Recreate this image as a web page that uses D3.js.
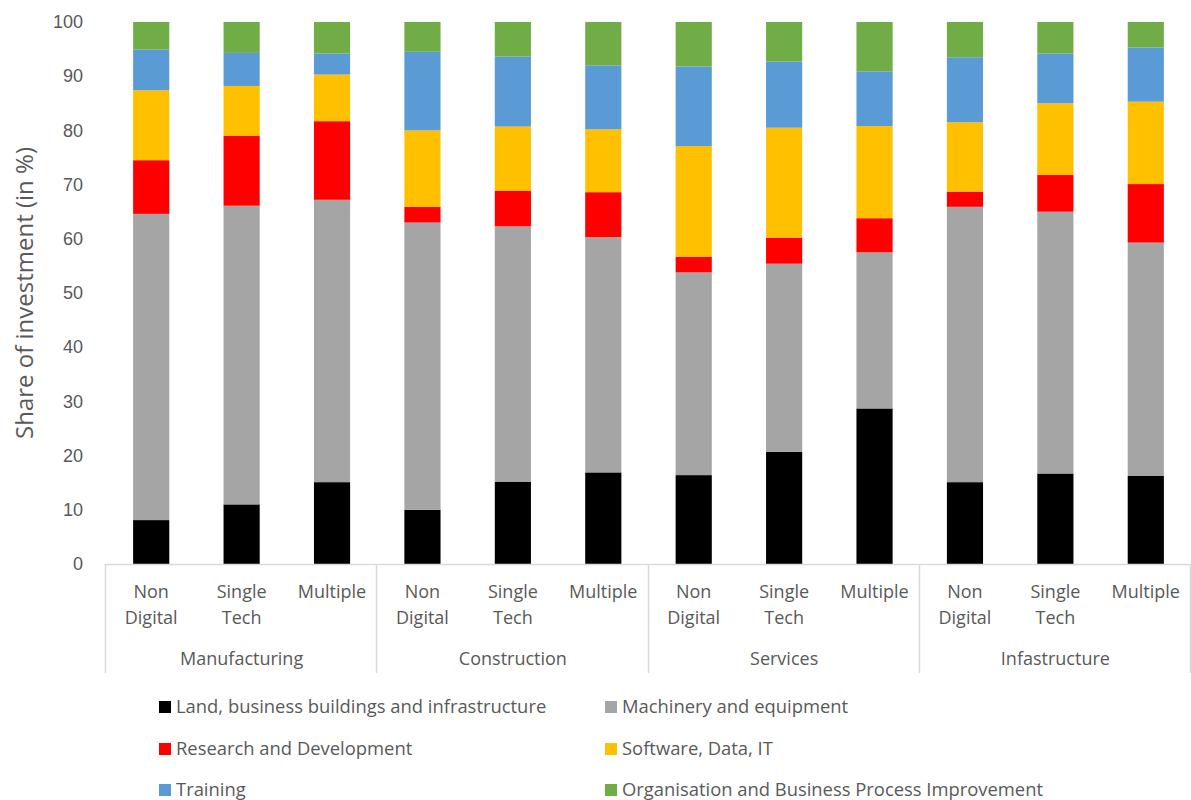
<!DOCTYPE html>
<html>
<head>
<meta charset="utf-8">
<script src="https://cdn.jsdelivr.net/npm/d3@7"></script>
<style>
  body { margin: 0; background: #fff; }
  svg { font-family: "Open Sans", sans-serif; }
  .tick text { fill: #595959; }
</style>
</head>
<body>
<svg id="chart" width="1191" height="800"></svg>
<script>
// ---- Data
const groups = ["Manufacturing", "Construction", "Services", "Infastructure"];
const levels = ["Non Digital", "Single Tech", "Multiple"];
const yTicks = [0, 10, 20, 30, 40, 50, 60, 70, 80, 90, 100];

const seriesNames = [
    "Land, business buildings and infrastructure",
    "Machinery and equipment",
    "Research and Development",
    "Software, Data, IT",
    "Training",
    "Organisation and Business Process Improvement"
];
const seriesColors = ["#000000", "#a5a5a5", "#ff0000", "#ffc000", "#5b9bd5", "#70ad47"];

// one value per bar, in order Manufacturing ND/ST/M, Construction ..., Services ..., Infrastructure ...
const land      = [8.1, 11.0, 15.1, 10.0, 15.2, 16.9, 16.4, 20.7, 28.7, 15.1, 16.7, 16.3];
const machinery = [56.5, 55.1, 52.1, 53.0, 47.1, 43.4, 37.4, 34.7, 28.8, 50.8, 48.3, 43.0];
const research  = [9.9, 12.9, 14.5, 2.9, 6.6, 8.3, 2.9, 4.8, 6.3, 2.8, 6.8, 10.8];
const software  = [12.9, 9.2, 8.6, 14.1, 11.8, 11.6, 20.4, 20.3, 17.0, 12.8, 13.2, 15.2];
const training  = [7.5, 6.1, 3.9, 14.5, 12.9, 11.8, 14.7, 12.2, 10.1, 12.0, 9.2, 10.0];
const organisation = [5.1, 5.7, 5.8, 5.5, 6.4, 8.0, 8.2, 7.3, 9.1, 6.5, 5.8, 4.7];

const seriesValues = [land, machinery, research, software, training, organisation];

// ---- Build rows
const rows = [];
groups.forEach((g, gi) => {
    levels.forEach((l, li) => {
        const i = gi * levels.length + li;
        const row = { key: g + "|" + l, group: g, level: l };
        seriesNames.forEach((s, si) => { row[s] = seriesValues[si][i]; });
        rows.push(row);
    });
});

const stacked = d3.stack().keys(seriesNames)(rows);

// ---- Layout
const svg = d3.select('#chart');
const margens = { left: 106, right: 0, top: 22, bottom: 236 };
const width = 1191, height = 800;
const plotBottom = height - margens.bottom; // 564

const mapX = d3.scaleBand()
    .domain(rows.map(d => d.key))
    .range([margens.left, width - margens.right])
    .paddingInner(0.6)
    .paddingOuter(0.3);

const mapY = d3.scaleLinear()
    .domain([0, 100])
    .range([plotBottom, margens.top]);

// ---- Bars
svg.append('g')
    .selectAll('g')
    .data(stacked)
    .enter()
    .append('g')
    .attr('fill', (d, i) => seriesColors[i])
    .selectAll('rect')
    .data(d => d)
    .enter()
    .append('rect')
    .attr('x', d => mapX(d.data.key))
    .attr('y', d => mapY(d[1]))
    .attr('width', mapX.bandwidth())
    .attr('height', d => mapY(d[0]) - mapY(d[1]));

// ---- Y axis (labels only)
const yAxis = d3.axisLeft(mapY).tickValues(yTicks).tickSize(0).tickPadding(0);
const yg = svg.append('g')
    .attr('class', 'y axis')
    .attr('transform', `translate(83, 0)`)
    .call(yAxis);
yg.select('.domain').remove();
yg.selectAll('text').style('font-size', '18px').attr('font-family', null);

svg.append("text")
    .attr("transform", `translate(25, 293) rotate(-90)`)
    .attr("dy", "0.35em")
    .style("text-anchor", "middle")
    .style("font-size", "24px")
    .attr("fill", "#595959")
    .text("Share of investment (in %)");

// ---- Category axis
const lineColor = "#d9d9d9";
svg.append('line')
    .attr('x1', margens.left).attr('x2', width - margens.right)
    .attr('y1', plotBottom + 0.5).attr('y2', plotBottom + 0.5)
    .attr('stroke', lineColor).attr('stroke-width', 1.5);

// group separators from the band scale range
const groupWidth = (mapX.range()[1] - mapX.range()[0]) / groups.length;
d3.range(groups.length + 1).forEach(i => {
    const x = Math.round(mapX.range()[0] + i * groupWidth) - 0.5;
    svg.append('line')
        .attr('x1', x).attr('x2', x)
        .attr('y1', plotBottom).attr('y2', 673)
        .attr('stroke', lineColor).attr('stroke-width', 1.5);
});

const catLabels = svg.append('g').attr('fill', '#595959').style('font-size', '18px');
rows.forEach(d => {
    const cx = mapX(d.key) + mapX.bandwidth() / 2;
    const words = d.level === "Multiple" ? ["Multiple"] : d.level.split(" ");
    const t = catLabels.append('text')
        .attr('x', cx)
        .attr('y', 598)
        .style('text-anchor', 'middle');
    words.forEach((w, wi) => {
        t.append('tspan').attr('x', cx).attr('dy', wi === 0 ? 0 : 26).text(w);
    });
});

groups.forEach((g, gi) => {
    catLabels.append('text')
        .attr('x', mapX.range()[0] + (gi + 0.5) * groupWidth)
        .attr('y', 665)
        .style('text-anchor', 'middle')
        .text(g);
});

// ---- Legend
const legendCols = [159, 605];
const legendRows = [707, 749, 790];
const legend = svg.append('g').style('font-size', '18.4px').attr('fill', '#595959');
seriesNames.forEach((s, i) => {
    const lx = legendCols[i % 2];
    const ly = legendRows[Math.floor(i / 2)];
    legend.append('rect')
        .attr('x', lx).attr('y', ly - 6)
        .attr('width', 12).attr('height', 12)
        .attr('fill', seriesColors[i]);
    legend.append('text')
        .attr('x', lx + 17).attr('y', ly)
        .attr('dy', '0.35em')
        .text(s);
});
</script>
</body>
</html>
